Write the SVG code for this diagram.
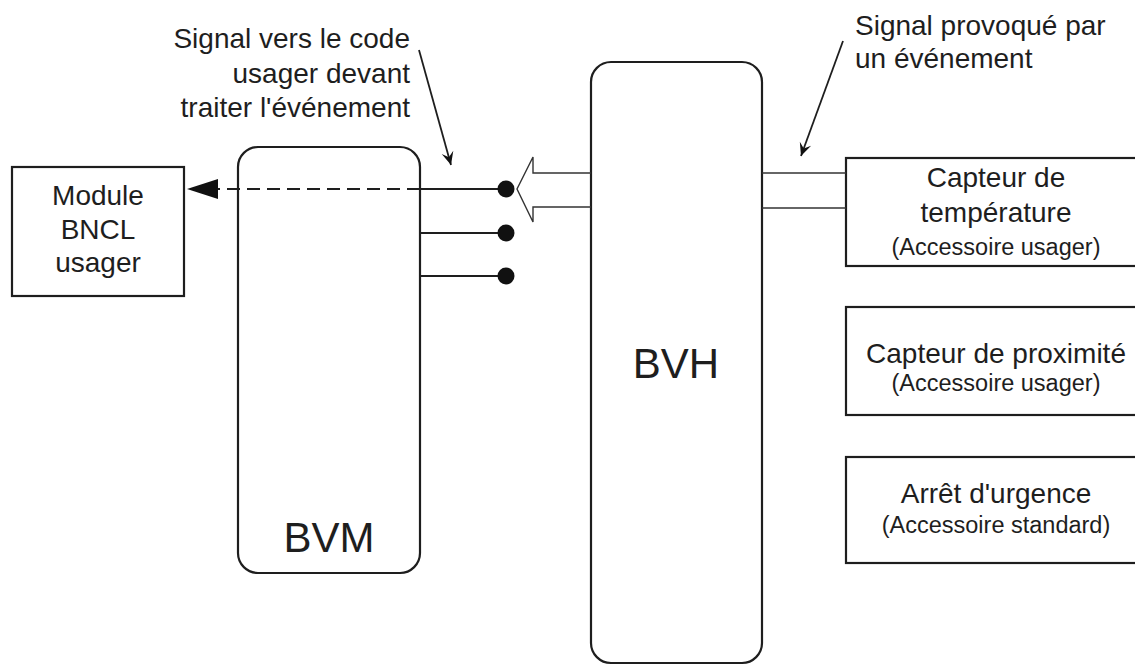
<svg xmlns="http://www.w3.org/2000/svg" width="1135" height="665" viewBox="0 0 1135 665">
  <style>
    .box { fill: #ffffff; stroke: #1e1e1e; stroke-width: 2.2; }
    .lbl { font-family: "Liberation Sans", Arial, sans-serif; font-size: 28px; fill: #1e1e1e; }
    .sub { font-family: "Liberation Sans", Arial, sans-serif; font-size: 23.5px; fill: #1e1e1e; }
    .big { font-family: "Liberation Sans", Arial, sans-serif; font-size: 42px; fill: #1e1e1e; }
    .wire { stroke: #1e1e1e; stroke-width: 1.8; fill: none; }
    .thin { stroke: #333; stroke-width: 1.4; fill: none; }
    .dash { stroke: #1e1e1e; stroke-width: 1.8; fill: none; stroke-dasharray: 13 7; }
    .dot { fill: #111; }
  </style>
  <defs>
    <marker id="tri" viewBox="0 -10 31 20" refX="0" refY="0" markerWidth="31" markerHeight="20" markerUnits="userSpaceOnUse" orient="auto">
      <path d="M0,-10 L31,0 L0,10 Z" fill="#111"/>
    </marker>
    <marker id="barb" viewBox="-14 -7 15 14" refX="0" refY="0" markerWidth="15" markerHeight="14" markerUnits="userSpaceOnUse" orient="auto">
      <path d="M0,0 L-13,-6 L-8,0 L-13,6 Z" fill="#111"/>
    </marker>
  </defs>

  <g id="module">
    <rect class="box" x="12" y="167" width="172" height="129"/>
    <text class="lbl" x="98" y="205" text-anchor="middle">Module</text>
    <text class="lbl" x="98" y="239" text-anchor="middle">BNCL</text>
    <text class="lbl" x="98" y="272" text-anchor="middle">usager</text>
  </g>

  <g id="bvm">
    <rect class="box" x="238" y="147" width="182" height="426" rx="20" ry="20"/>
    <text class="big" x="329" y="552" text-anchor="middle">BVM</text>
  </g>

  <g id="bvh">
    <rect class="box" x="591" y="62" width="171" height="601" rx="20" ry="20"/>
    <text class="big" x="676" y="378" text-anchor="middle">BVH</text>
  </g>

  <g id="capteur-temperature">
    <rect class="box" x="846" y="158" width="300" height="108"/>
    <text class="lbl" x="996" y="187" text-anchor="middle">Capteur de</text>
    <text class="lbl" x="996" y="222" text-anchor="middle">température</text>
    <text class="sub" x="996" y="255" text-anchor="middle">(Accessoire usager)</text>
  </g>

  <g id="capteur-proximite">
    <rect class="box" x="846" y="307" width="300" height="108"/>
    <text class="lbl" x="996" y="363" text-anchor="middle">Capteur de proximité</text>
    <text class="sub" x="996" y="391" text-anchor="middle">(Accessoire usager)</text>
  </g>

  <g id="arret-urgence">
    <rect class="box" x="846" y="457" width="300" height="106"/>
    <text class="lbl" x="996" y="503" text-anchor="middle">Arrêt d'urgence</text>
    <text class="sub" x="996" y="533" text-anchor="middle">(Accessoire standard)</text>
  </g>

  <g id="annotation-gauche">
    <text class="lbl" x="410" y="48" text-anchor="end">Signal vers le code</text>
    <text class="lbl" x="410" y="83" text-anchor="end">usager devant</text>
    <text class="lbl" x="410" y="117" text-anchor="end">traiter l'événement</text>
  </g>

  <g id="annotation-droite">
    <text class="lbl" x="855" y="35">Signal provoqué par</text>
    <text class="lbl" x="855" y="68">un événement</text>
  </g>

  <g id="connectors">
    <line class="dash" x1="420" y1="189" x2="218" y2="189" marker-end="url(#tri)"/>
    <line class="wire" x1="420" y1="189" x2="506" y2="189"/>
    <line class="wire" x1="420" y1="233" x2="506" y2="233"/>
    <line class="wire" x1="420" y1="276" x2="506" y2="276"/>
    <circle class="dot" cx="506" cy="189" r="8.5"/>
    <circle class="dot" cx="506" cy="233" r="8.5"/>
    <circle class="dot" cx="506" cy="276" r="8.5"/>
    <polyline class="thin" points="591,173 533,173 533,157 517,189 533,222 533,207 591,207"/>
    <line class="thin" x1="762" y1="173" x2="846" y2="173"/>
    <line class="thin" x1="762" y1="208" x2="846" y2="208"/>
    <line class="wire" x1="419" y1="50" x2="451" y2="165" marker-end="url(#barb)"/>
    <line class="wire" x1="843" y1="41" x2="801" y2="156" marker-end="url(#barb)"/>
  </g>
</svg>
